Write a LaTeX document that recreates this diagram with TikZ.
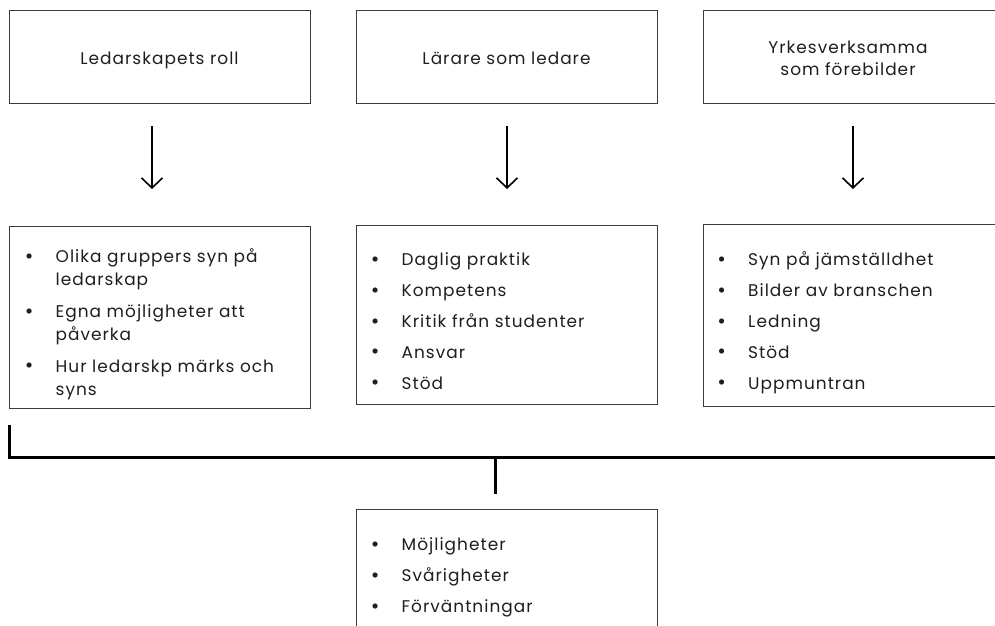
\documentclass[tikz,border=0pt]{standalone}
\usepackage{fontspec}
\setmainfont{Poppins}[LetterSpace=6]
\usetikzlibrary{arrows.meta}
\definecolor{txt}{HTML}{1E1E1E}
\definecolor{edge}{HTML}{3C3C3C}
\newcommand\bl{\makebox[0pt][c]{\raisebox{-0.8bp}{\fontsize{21}{21}\selectfont\textbullet}}\hspace{26.5bp}}
\newcommand\ct{\hspace{26.5bp}}
\tikzset{
  boxnode/.style={draw=edge, line width=1.1bp, rectangle, inner sep=0pt, anchor=north west, minimum width=301bp},
  toptext/.style={font=\fontsize{17}{22}\selectfont, text=txt, align=center, inner sep=0pt},
  listtext/.style={font=\fontsize{17}{31}\selectfont, text=txt, inner sep=0pt, anchor=base west},
  arr/.style={line width=1.6bp, -{Straight Barb[length=10bp,width=21bp,line width=1.6bp]}},
  bar/.style={line width=3bp}
}
\begin{document}
\begin{tikzpicture}[x=1bp,y=-1bp]
\useasboundingbox (0,0) rectangle (995,626);
\clip (0,0) rectangle (995,626);
% top boxes
\node[boxnode, minimum height=93bp] (t1) at (9,10) {};
\node[boxnode, minimum height=93bp] (t2) at (356,10) {};
\node[boxnode, minimum height=93bp] (t3) at (703,10) {};
\node[toptext, anchor=base] (t1txt) at (159.5,64.5) {Ledarskapets roll};
\node[toptext, anchor=base] (t2txt) at (506.5,64.5) {Lärare som ledare};
\node[toptext, anchor=base] (t3txt) at (848,53.5) {%
\begin{tabular}[t]{@{}c@{}}Yrkesverksamma\\som förebilder\end{tabular}};
% arrows
\coordinate (a1s) at (152,126); \coordinate (a1e) at (152,189);
\coordinate (a2s) at (507,126); \coordinate (a2e) at (507,189);
\coordinate (a3s) at (853,126); \coordinate (a3e) at (853,189);
\draw[arr] (a1s) -- (a1e);
\draw[arr] (a2s) -- (a2e);
\draw[arr] (a3s) -- (a3e);
% middle boxes
\node[boxnode, minimum height=182bp] (m1) at (9,226) {};
\node[boxnode, minimum height=179bp] (m2) at (356,225) {};
\node[boxnode, minimum height=182bp] (m3) at (703,224) {};
\node[listtext, font=\fontsize{17}{23.5}\selectfont] (m1txt) at (29,262.5) {%
\begin{tabular}[t]{@{}l@{}}
\bl Olika gruppers syn på\\
\ct ledarskap\\[8bp]
\bl Egna möjligheter att\\
\ct påverka\\[8bp]
\bl Hur ledarskp märks och\\
\ct syns
\end{tabular}};
\node[listtext] (m2txt) at (375,265.5) {%
\begin{tabular}[t]{@{}l@{}}
\bl Daglig praktik\\
\bl Kompetens\\
\bl Kritik från studenter\\
\bl Ansvar\\
\bl Stöd
\end{tabular}};
\node[listtext] (m3txt) at (721.5,265.5) {%
\begin{tabular}[t]{@{}l@{}}
\bl Syn på jämställdhet\\
\bl Bilder av branschen\\
\bl Ledning\\
\bl Stöd\\
\bl Uppmuntran
\end{tabular}};
% connector bar
\coordinate (barL) at (9,425);
\coordinate (barC) at (9,457);
\coordinate (barR) at (1000,457);
\coordinate (stemT) at (495,457);
\coordinate (stemB) at (495,494);
\draw[bar] (barL) -- (barC) -- (barR);
\draw[bar] (stemT) -- (stemB);
% bottom box
\node[boxnode, minimum height=150bp] (b1) at (356,509) {};
\node[listtext] (b1txt) at (375,550.5) {%
\begin{tabular}[t]{@{}l@{}}
\bl Möjligheter\\
\bl Svårigheter\\
\bl Förväntningar
\end{tabular}};
\end{tikzpicture}
\end{document}
